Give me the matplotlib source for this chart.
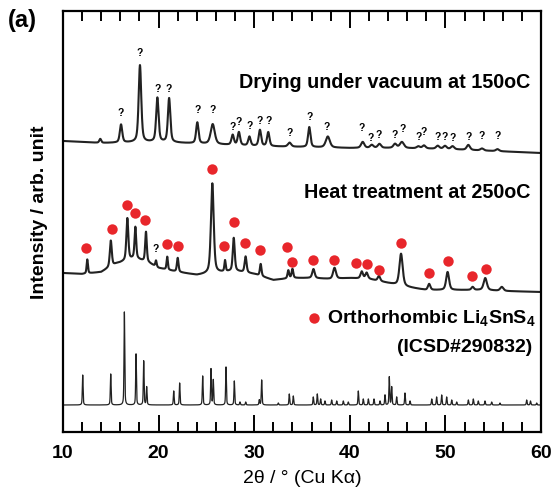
import matplotlib.pyplot as plt
import numpy as np

plt.rcParams['font.family'] = ['Liberation Sans', 'DejaVu Sans']
plt.rcParams['font.weight'] = 'bold'
plt.rcParams['mathtext.fontset'] = 'custom'
plt.rcParams['mathtext.rm'] = 'Liberation Sans:bold'
plt.rcParams['mathtext.default'] = 'rm'

# --- drying under vacuum at 150 C (top pattern) ---
top_bg_x = [10, 14, 20, 25, 30, 35, 40, 45, 50, 55, 60]
top_bg_y = [291, 289, 290, 288, 286, 285, 284, 284, 283, 281, 279]
top_pos = [13.9, 16.07, 18.05, 19.87, 21.1, 24.05, 25.66, 27.75, 28.4, 29.5,
           30.6, 31.47, 33.7, 35.76, 37.7, 41.35, 42.3, 43.1, 44.73, 45.45,
           47.17, 47.76, 49.2, 49.96, 50.75, 52.4, 53.83, 55.45]
top_h = [4, 18, 77, 44, 44, 21, 20, 10, 13, 9,
         16, 14, 4, 20, 11, 6, 3, 4, 4, 6,
         2, 3, 3, 3, 3, 5, 2, 2]
top_w = [0.12, 0.15, 0.16, 0.15, 0.15, 0.15, 0.25, 0.15, 0.15, 0.15,
         0.15, 0.15, 0.2, 0.15, 0.25, 0.2, 0.2, 0.2, 0.2, 0.25,
         0.2, 0.2, 0.2, 0.2, 0.2, 0.2, 0.2, 0.2]
# question marks over the unknown peaks
q_x = [16.07, 18.05, 19.87, 21.1, 24.05, 25.66, 27.75, 28.41, 29.49, 30.6,
       31.47, 33.74, 35.76, 37.58, 41.28, 42.22, 43.02, 44.73, 45.49, 47.17,
       47.76, 49.19, 49.96, 50.72, 52.4, 53.83, 55.47]
q_y = [319, 379, 343, 343, 322, 322, 305, 310, 306, 311,
       311, 299, 315, 305, 304, 294, 297, 297, 303, 295,
       300, 295, 295, 294, 295, 296, 296]

# --- heat treatment at 250 C (middle pattern) ---
mid_bg_x = [10, 12, 14, 15.5, 17.5, 19, 20, 22, 24, 26, 28, 30, 32, 34, 36,
            38, 40, 42, 44, 46, 48, 50, 52, 54, 56, 60]
mid_bg_y = [159, 158, 160, 168, 174, 169, 164, 160, 157, 159, 161, 158, 152,
            154, 154, 153, 154, 153, 149, 145, 142, 142, 142, 142, 141, 140]
mid_pos = [12.54, 15.0, 16.73, 17.57, 18.68, 19.73, 20.9, 22.0, 25.62, 26.95,
           27.86, 29.1, 30.68, 33.57, 34.0, 36.2, 38.4, 41.25, 41.76, 43.05,
           45.36, 48.3, 50.23, 52.85, 54.17, 55.9]
mid_h = [14, 26, 42, 31, 30, 6, 13, 14, 90, 11,
         33, 16, 12, 8, 9, 9, 11, 7, 6, 5,
         32, 6, 18, 3, 12, 4]
mid_w = [0.08, 0.12, 0.12, 0.1, 0.1, 0.08, 0.08, 0.1, 0.17, 0.08,
         0.12, 0.12, 0.1, 0.1, 0.1, 0.15, 0.18, 0.15, 0.15, 0.15,
         0.2, 0.15, 0.18, 0.15, 0.2, 0.2]
dot_x = [12.41, 15.09, 16.66, 17.56, 18.61, 20.91, 22.06, 25.55, 26.84, 27.89,
         29.07, 30.61, 33.46, 33.99, 36.12, 38.35, 40.65, 41.83, 43.05, 45.36,
         48.32, 50.24, 52.82, 54.21]
dot_y = [184, 203, 227, 219, 212, 188, 186, 263, 186, 210,
         189, 182, 185, 170, 172, 172, 169, 168, 162, 189,
         159, 171, 156, 163]

# --- reference pattern, ICSD#290832 ---
ref_base = 27
ref_pos = [12.06, 14.99, 16.42, 17.64, 18.44, 18.75, 21.58, 22.2, 24.61, 25.48,
           25.72, 27.05, 27.92, 28.51, 29.11, 30.53, 30.78, 32.52, 33.67, 34.09,
           36.18, 36.6, 36.95, 37.4, 38.1, 38.63, 39.32, 39.84, 40.89, 41.41,
           41.94, 42.53, 43.16, 43.68, 44.13, 44.38, 44.9, 45.77, 46.3, 48.57,
           49.08, 49.61, 50.13, 50.66, 51.18, 52.4, 52.92, 53.44, 54.14, 54.84,
           55.71, 58.5, 58.9, 59.55]
ref_h = [30, 31, 93, 51, 44, 18, 14, 22, 29, 36,
         25, 38, 24, 3, 3, 5, 25, 2, 11, 9,
         8, 11, 6, 4, 5, 4, 4, 3, 14, 6,
         6, 6, 4, 10, 28, 18, 8, 12, 4, 6,
         8, 10, 8, 5, 3, 5, 6, 4, 4, 3,
         2, 5, 4, 2]

two_theta = np.arange(10, 60.001, 0.01)


def pattern(pos, h, w):
    y = np.zeros_like(two_theta)
    for p, a, g in zip(pos, h, w):
        d = (two_theta - p) / g
        y += a * (0.5 / (1 + d ** 2) + 0.5 * np.exp(-np.log(2) * d ** 2))
    return y


top = np.interp(two_theta, top_bg_x, top_bg_y) + pattern(top_pos, top_h, top_w)
mid = np.interp(two_theta, mid_bg_x, mid_bg_y) + pattern(mid_pos, mid_h, mid_w)
ref = ref_base + pattern(ref_pos, ref_h, [0.045] * len(ref_pos))

fig = plt.figure(figsize=(5.51, 4.97), dpi=100)
ax = fig.add_axes([63 / 551, 1 - 432 / 497, 478 / 551, 421 / 497])

ax.plot(two_theta, top, color='#222222', lw=1.5)
ax.plot(two_theta, mid, color='#222222', lw=1.5)
ax.plot(two_theta, ref, color='#222222', lw=0.9)

for x, y in zip(q_x, q_y):
    ax.text(x, y, '?', ha='center', va='center', fontsize=7.5)
ax.text(19.73, 183, '?', ha='center', va='center', fontsize=7.5)
ax.plot(dot_x, dot_y, 'o', color='#e8262b', ms=7.5, mec='none')

ax.text(58.85, 350, 'Drying under vacuum at 150oC', ha='right', va='center',
        fontsize=14.2)
ax.text(58.85, 240, 'Heat treatment at 250oC', ha='right', va='center',
        fontsize=14.2)
ax.plot([36.26], [114], 'o', color='#e8262b', ms=7.5, mec='none')
ax.text(37.62, 114, 'Orthorhombic Li$_4$SnS$_4$', ha='left', va='center',
        fontsize=14)
ax.text(59.06, 84, '(ICSD#290832)', ha='right', va='center', fontsize=14)

ax.set_xlim(10, 60)
ax.set_ylim(0, 421)
ax.set_xticks(np.arange(10, 61, 10))
ax.set_xticks(np.arange(12, 60, 2), minor=True)
ax.set_yticks([])
ax.tick_params(axis='x', which='both', direction='in', top=True,
               labelsize=14, pad=9, width=1.4)
ax.tick_params(axis='x', which='major', length=12)
ax.tick_params(axis='x', which='minor', length=7)
for s in ax.spines.values():
    s.set_linewidth(1.6)
ax.set_xlabel('2θ / ° (Cu Kα)', fontsize=14, labelpad=6)
fig.text(40 / 551, 1 - 212 / 497, 'Intensity / arb. unit', rotation=90,
         ha='center', va='center', fontsize=14)
fig.text(22 / 551, 1 - 20 / 497, '(a)', ha='center', va='center', fontsize=17)

fig.savefig('out.png', dpi=100)
